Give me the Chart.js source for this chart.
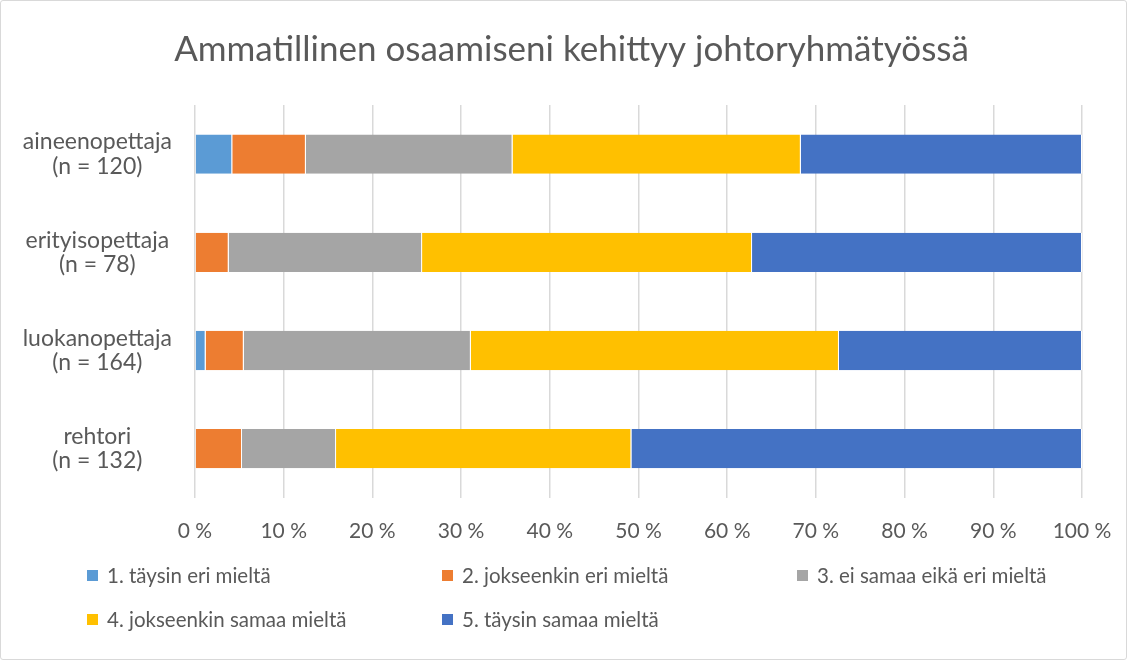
<!DOCTYPE html>
<html>
<head>
<meta charset="utf-8">
<script src="https://cdn.jsdelivr.net/npm/chart.js@4"></script>
<style>
  body { margin: 0; background: #fff; font-family: Lato, sans-serif; }
  #wrap { position: relative; width: 1125px; height: 658px; border: 1px solid #d9d9d9; border-radius: 3px; }
  #legend { position: absolute; left: 86px; top: 562px; width: 1060px; display: grid; grid-template-columns: 355px 355px 355px; row-gap: 20px; }
  .item { display: flex; align-items: center; font-size: 20.5px; color: #595959; }
  .box { width: 11px; height: 11px; margin-right: 9px; }
</style>
</head>
<body>
<div id="wrap">
  <canvas id="chart" width="1125" height="658"></canvas>
  <div id="legend"></div>
</div>
<script>
const categories = [
  ['aineenopettaja', '(n = 120)'],
  ['erityisopettaja', '(n = 78)'],
  ['luokanopettaja', '(n = 164)'],
  ['rehtori', '(n = 132)']
];
const seriesNames = [
  '1. täysin eri mieltä',
  '2. jokseenkin eri mieltä',
  '3. ei samaa eikä eri mieltä',
  '4. jokseenkin samaa mieltä',
  '5. täysin samaa mieltä'
];
// percentages per category, one array per answer option
const taysinEri = [4.2, 0, 1.2, 0];
const jokseenkinEri = [8.3, 3.8, 4.3, 5.3];
const eiSamaaEikaEri = [23.3, 21.8, 25.6, 10.6];
const jokseenkinSamaa = [32.5, 37.2, 41.5, 33.3];
const taysinSamaa = [31.7, 37.2, 27.4, 50.8];
const colors = ['#5b9bd5', '#ed7d31', '#a5a5a5', '#ffc000', '#4472c4'];
const xTicks = [0, 10, 20, 30, 40, 50, 60, 70, 80, 90, 100];

const values = [taysinEri, jokseenkinEri, eiSamaaEikaEri, jokseenkinSamaa, taysinSamaa];

const datasets = values.map((v, i) => ({
    label: seriesNames[i],
    data: v,
    backgroundColor: colors[i],
    borderColor: '#ffffff',
    borderWidth: { left: 0, right: 1, top: 0, bottom: 0 },
    borderSkipped: false,
    categoryPercentage: 0.4,
    barPercentage: 1.0
}));

// title in the original sits a bit right of the canvas centre
const shiftTitle = {
    id: 'shiftTitle',
    afterLayout(chart) {
        if (chart.titleBlock) chart.titleBlock.left += 48;
    }
};

const config = {
    type: 'bar',
    data: { labels: categories, datasets: datasets },
    plugins: [shiftTitle],
    options: {
        indexAxis: 'y',
        responsive: false,
        animation: false,
        layout: { padding: { left: 12, right: 44, top: 22, bottom: 94 } },
        plugins: {
            legend: { display: false },
            tooltip: { enabled: false },
            title: {
                display: true,
                text: 'Ammatillinen osaamiseni kehittyy johtoryhmätyössä',
                color: '#595959',
                font: { family: 'Lato', size: 35, weight: 'normal' },
                padding: { top: 6, bottom: 34 }
            }
        },
        scales: {
            x: {
                stacked: true,
                min: 0,
                max: 100,
                afterBuildTicks: axis => { axis.ticks = xTicks.map(v => ({ value: v })); },
                afterFit: axis => { axis.paddingRight = 0; },
                grid: { color: '#d9d9d9', lineWidth: 1.5, drawTicks: false },
                border: { display: false },
                ticks: {
                    color: '#595959',
                    font: { family: 'Lato', size: 21 },
                    padding: 21,
                    callback: v => v + ' %'
                }
            },
            y: {
                stacked: true,
                grid: { display: false },
                border: { display: false },
                afterFit: axis => { axis.width = 182; },
                ticks: {
                    color: '#595959',
                    font: { family: 'Lato', size: 23, lineHeight: 1.05 },
                    crossAlign: 'center',
                    padding: 15
                }
            }
        }
    }
};

new Chart(document.getElementById('chart').getContext('2d'), config);

document.getElementById('legend').innerHTML = seriesNames.map((name, i) =>
    `<div class="item"><span class="box" style="background:${colors[i]}"></span>${name}</div>`
).join('');
</script>
</body>
</html>
